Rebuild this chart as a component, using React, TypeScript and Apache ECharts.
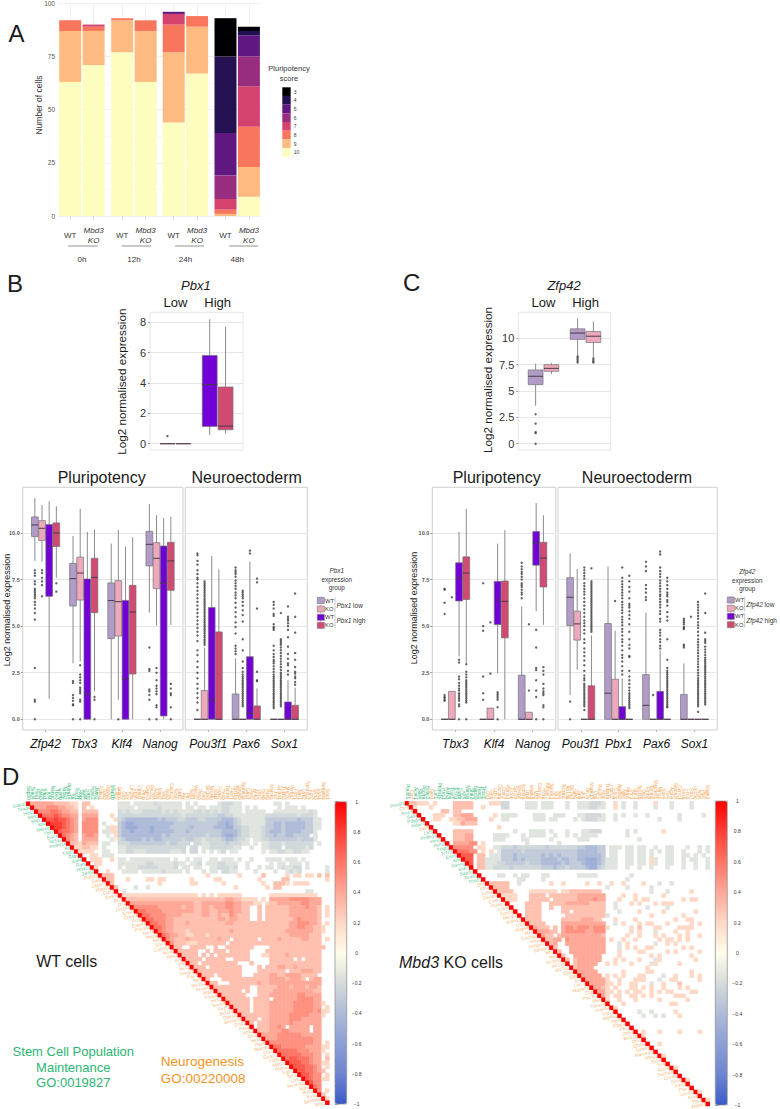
import { useEffect, useRef } from "react";
import * as echarts from "echarts";

const FONT = '"Liberation Sans", Arial, sans-serif';

// panel A
const facets = ["0h", "12h", "24h", "48h"];
const facetBars = ["WT", "Mbd3 KO"];
const scoreNames = ["10", "9", "8", "7", "6", "5", "4", "3"];
const scoreColors = ["#fcfdbf", "#febb81", "#f8765c", "#d3436e", "#982d80", "#5f187f", "#231151", "#000004"];
const score10 = [63, 71, 77, 63, 44, 67, 0, 9];
const score9 = [24, 16, 15, 24, 33, 22, 1, 14];
const score8 = [5, 2, 1, 5, 13, 5, 2, 19];
const score7 = [0, 1, 0, 0, 5, 0, 5, 19];
const score6 = [0, 0, 0, 0, 0, 0, 11, 14];
const score5 = [0, 0, 0, 0, 1, 0, 20, 10];
const score4 = [0, 0, 0, 0, 0, 0, 36, 2];
const score3 = [0, 0, 0, 0, 0, 0, 18, 2];
const scoreValues = [score10, score9, score8, score7, score6, score5, score4, score3];

// boxplots: [whisker low, q1, median, q3, whisker high] per gene, then per group
const groupColors = ["#b19cc7", "#eda9bc", "#7200d6", "#d04a72"];
const levelNames = ["Low", "High"];

const pbx1Boxes = [
  [[0, 0, 0, 0, 0], [0, 0, 0, 0, 0]],
  [[0.57, 1.14, 3.9, 5.82, 8.2], [0.66, 0.92, 1.16, 3.74, 7.7]],
];
const pbx1Outliers = [[[0.5], []], [[], []]];
const zfp42Boxes = [
  [[3.6, 5.6, 6.4, 7.0, 7.6], [6.6, 6.87, 7.15, 7.5, 7.66]],
  [[8.4, 9.9, 10.5, 10.9, 11.9], [8.2, 9.6, 10.2, 10.65, 11.6]],
];
const zfp42Outliers = [
  [[2.8, 1.9, 1.1, 1.0, 0], []],
  [[8.3, 8.15, 8.0, 7.85, 7.7], [8.1, 7.95, 7.8, 7.7]],
];

const bPluriGenes = ["Zfp42", "Tbx3", "Klf4", "Nanog"];
const bPluriBoxes = [
  [[8.5, 9.8, 10.43, 10.86, 11.88], [8.46, 9.6, 10.25, 10.66, 11.5], [1.1, 6.6, 9.28, 10.45, 11.7], [7.6, 9.27, 10, 10.54, 11.43]],
  [[3.0, 6.08, 7.55, 8.37, 9.84], [3.1, 6.4, 7.85, 8.7, 11.3], [0, 0, 1.35, 7.53, 10.05], [1.5, 5.72, 7.62, 8.64, 10.18]],
  [[0, 4.33, 6.37, 7.32, 9.43], [1.05, 4.47, 6.31, 7.44, 10.16], [0, 0, 2.16, 6.38, 9.27], [0, 2.43, 5.76, 7.19, 9.77]],
  [[5.72, 8.23, 9.39, 10.09, 11.55], [5.03, 7.01, 8.64, 9.48, 10.95], [0, 0.18, 7.3, 9.3, 10.8], [5.06, 6.92, 8.5, 9.5, 10.86]],
];
const bPluriOutliers = [
  [
    [8.0, 7.85, 7.7, 7.4, 7.25, 7.0, 6.9, 6.8, 6.7, 6.6, 6.5, 6.3, 6.15, 5.95, 5.7, 5.35, 2.75, 1.05, 0.95, 0],
    [8.0, 7.85, 7.6, 7.4, 7.2, 6.6],
    [],
    [7.3, 6.85],
  ],
  [
    [2.05, 1.95, 1.3, 1.15, 1.0, 0.8, 0.75, 0],
    [2.9, 2.4, 2.25, 2.1, 1.95, 1.7, 1.6, 1.5, 1.4, 1.05, 0.95, 0],
    [],
    [1.2, 1.05, 0],
  ],
  [[], [0], [], []],
  [
    [3.85, 2.7, 2.6, 1.6, 1.5, 1.3, 1.05, 0],
    [2.75, 2.5, 2.1, 1.8, 1.65, 1.5, 1.35, 0.75, 0.65, 0],
    [],
    [1.9, 1.65, 1.4, 1.3, 0.65, 0],
  ],
];

const bNeuroGenes = ["Pou3f1", "Pax6", "Sox1"];
const bNeuroBoxes = [
  [[0, 0, 0, 0, 0], [0, 0, 0, 1.54, 3.85], [0, 0, 1.04, 6.0, 8.77], [0, 0, 0, 4.69, 8.05]],
  [[0, 0, 0, 1.36, 3.27], [0, 0, 0, 0, 0], [0, 0, 0.32, 3.36, 8.46], [0, 0, 0, 0.72, 1.66]],
  [[0, 0, 0, 0, 0], [0, 0, 0, 0, 0], [0, 0, 0, 0.93, 2.1], [0, 0, 0, 0.75, 1.7]],
];
const bNeuroOutliers = [
  [
    [8.9, 8.8, 8.5, 8.3, 8.0, 7.8, 7.6, 7.5, 7.3, 7.1, 6.9, 6.7, 6.5, 6.3, 6.1, 5.9, 5.7, 5.5, 5.3, 5.1, 4.9, 4.7, 4.5, 4.2, 3.7, 3.45, 3.1, 2.8, 2.5, 2.2, 1.9, 1.65, 1.4, 1.15, 0.9, 0.5],
    [7.4, 7.3, 7.2, 7.1, 7.0, 6.9, 6.8, 6.7, 6.6, 6.5, 6.4, 6.3, 6.2, 6.1, 6.0, 5.9, 5.8, 5.7, 5.6, 5.5, 5.4, 5.3, 5.2, 5.1, 5.0, 4.9, 4.8, 4.7, 4.6, 4.5, 4.4, 4.3, 4.2, 4.1, 4.0],
    [],
    [],
  ],
  [
    [8.15, 8.0, 7.9, 7.8, 7.65, 7.45, 7.3, 7.15, 7.0, 6.8, 6.65, 6.5, 6.25, 6.0, 5.75, 5.5, 5.2, 4.95, 4.6, 3.95, 3.8, 3.65, 3.5],
    [6.9, 6.8, 6.7, 6.6, 6.5, 6.3, 6.1, 5.85, 5.6, 5.25, 4.3, 3.7, 3.1, 2.75, 2.55, 2.4, 2.3, 2.2, 2.1, 2.0, 1.9, 1.8, 1.7, 1.6, 1.5, 1.4, 1.3, 1.2, 1.1, 1.0, 0.9, 0.8, 0.7],
    [9.05, 8.9],
    [7.55, 7.35, 5.95, 2.55, 2.1, 2.05],
  ],
  [
    [6.3, 6.15, 5.95, 5.65, 5.55, 5.1, 4.95, 4.9, 4.8, 3.95, 3.7, 3.5, 3.35, 3.2, 3.1, 3.0, 2.85, 2.7, 2.55, 2.4, 2.3, 2.2, 2.1, 2.0, 1.9, 1.8, 1.7, 1.6, 1.5, 1.4, 1.3, 1.2, 1.1, 1.0, 0.9, 0.8, 0.7, 0.6],
    [5.7, 4.3, 4.2, 4.1, 4.0, 3.85, 3.7, 3.55, 3.4, 3.25, 3.1, 2.95, 2.8, 2.65, 2.5, 2.4, 2.3, 2.2, 2.1, 2.0, 1.9, 1.8, 1.7, 1.6, 1.5, 1.4, 1.3, 1.2, 1.1, 1.0, 0.9, 0.8, 0.7],
    [6.05, 5.5, 5.4, 5.3, 5.15, 5.0, 4.8, 4.4, 3.9, 3.5, 3.25, 3.0, 2.9, 2.6, 2.4],
    [6.75, 5.5, 4.65, 3.55, 3.2, 2.8, 2.55, 2.45, 2.3, 2.2, 2.0, 1.85],
  ],
];

const cPluriGenes = ["Tbx3", "Klf4", "Nanog"];
const cPluriBoxes = [
  [[0, 0, 0, 0, 0], [0, 0, 0, 1.5, 1.5], [3.37, 6.35, 7.58, 8.4, 10.05], [3.0, 6.43, 7.85, 8.72, 11.3]],
  [[0, 0, 0, 0, 0], [0, 0, 0, 0.6, 0.6], [2.47, 5.08, 6.4, 7.4, 9.43], [0, 4.37, 6.33, 7.42, 10.15]],
  [[0, 0, 0, 2.37, 6.05], [0, 0, 0, 0.38, 0.38], [5.8, 8.27, 9.47, 10.08, 11.6], [5.07, 7.1, 8.65, 9.5, 10.95]],
];
const cPluriOutliers = [
  [
    [7.0, 6.95, 6.25, 5.65, 1.3, 1.2, 1.15, 1.05, 1.0],
    [6.55],
    [3.2, 3.05, 2.3, 2.15, 1.95, 1.8, 1.65, 1.55, 1.4, 1.3, 1.2, 1.1, 1.0, 0.8, 0.7, 0],
    [2.95, 2.55, 2.4, 2.25, 2.1, 2.0, 1.9, 1.8, 1.7, 1.6, 1.5, 1.4, 1.3, 1.2, 1.1, 1.0, 0.9, 0],
  ],
  [
    [7.3, 5.0, 4.75, 2.3, 1.4, 1.05],
    [5.2, 2.45],
    [1.45, 1.35, 1.25, 1.15, 1.05, 0.65, 0],
    [],
  ],
  [
    [8.4, 8.2, 8.05, 7.9, 7.8, 7.65, 7.5, 7.3, 7.2, 7.1, 6.95, 6.8, 6.7, 6.5],
    [5.1, 1.55],
    [4.8, 3.85, 2.75, 2.65, 2.1, 1.55, 1.2, 0],
    [2.8, 2.6, 2.4, 1.9, 1.65, 1.5, 1.4, 1.3, 0.75, 0.65, 0],
  ],
];

const cNeuroGenes = ["Pou3f1", "Pbx1", "Pax6", "Sox1"];
const cNeuroBoxes = [
  [[1.3, 5.03, 6.55, 7.6, 8.9], [2.65, 4.25, 5.12, 5.8, 8.07], [0, 0, 0, 0, 0], [0, 0, 0, 1.8, 4.5]],
  [[0, 0, 1.4, 5.14, 8.2], [0, 0, 0, 2.15, 4.76], [0, 0, 0, 0.68, 2.2], [0, 0, 0, 0, 0]],
  [[0, 0, 0.75, 2.4, 5.73], [0, 0, 0, 0, 0], [0, 0, 0, 1.5, 3.7], [0, 0, 0, 0, 0]],
  [[0, 0, 0, 1.33, 3.0], [0, 0, 0, 0, 0], [0, 0, 0, 0, 0], [0, 0, 0, 0, 0]],
];
const cNeuroOutliers = [
  [
    [0.95, 0],
    [],
    [8.15, 8.0, 7.85, 7.7, 7.55, 7.3, 7.15, 7.0, 6.85, 6.7, 6.5, 6.3, 6.1, 5.9, 5.7, 5.5, 5.3, 5.15, 5.0, 4.8, 4.6, 4.3, 4.1, 3.8, 3.6, 3.4, 3.15, 2.9, 2.6, 2.35, 2.2, 2.1, 1.9, 1.8, 1.7, 1.6, 1.5, 1.4, 1.3, 1.2, 1.1, 1.0, 0.9, 0.8, 0.7, 0.5],
    [8.1, 7.4, 7.3, 7.2, 7.1, 7.0, 6.9, 6.8, 6.7, 6.6, 6.5, 6.4, 6.3, 6.2, 6.1, 6.0, 5.9, 5.8, 5.7, 5.6, 5.5, 5.4, 5.3, 5.2, 5.1, 5.0, 4.9, 4.8, 4.7],
  ],
  [
    [],
    [6.35],
    [8.15, 7.6, 7.4, 7.25, 7.1, 6.95, 6.8, 6.65, 6.5, 6.3, 6.15, 6.0, 5.85, 5.7, 5.5, 5.35, 5.2, 5.05, 4.85, 4.7, 4.5, 4.3, 4.15, 3.95, 3.7, 3.45, 3.3, 3.1, 2.85, 2.6, 2.4],
    [7.7, 7.4, 7.1, 6.85, 6.5, 6.2, 6.1, 6.0, 5.8, 5.6, 5.4, 5.1, 4.7, 4.3, 4.0, 3.8, 3.4, 3.35, 2.6, 2.3, 2.1, 1.9, 1.7, 1.55, 1.4, 1.3, 1.2, 1.1, 1.0, 0.9, 0.8, 0.7, 0.6],
  ],
  [
    [8.45, 8.2, 7.95, 7.2, 7.0, 6.8, 6.55, 6.4],
    [1.3],
    [9.0, 8.85, 8.15, 7.95, 7.8, 7.65, 7.45, 7.3, 7.15, 7.0, 6.85, 6.7, 6.6, 6.45, 6.3, 6.15, 6.0, 5.8, 5.65, 5.4, 5.25, 4.8, 4.65, 4.5, 4.3, 4.15, 3.95, 3.8],
    [7.6, 7.4, 7.2, 7.0, 6.8, 6.7, 6.6, 6.4, 6.3, 6.1, 5.75, 5.5, 5.3, 4.3, 3.2, 2.75, 2.6, 2.5, 2.4, 2.3, 2.2, 2.1, 2.0, 1.9, 1.8, 1.7, 1.6, 1.5, 1.4, 1.3, 1.2, 1.1, 1.0, 0.9, 0.8, 0.7, 0.65],
  ],
  [
    [5.4, 5.3, 5.2, 5.1, 4.95, 4.9, 4.85, 4.0, 3.95, 3.85],
    [5.5],
    [6.3, 6.15, 6.0, 5.85, 5.7, 5.55, 5.4, 5.2, 5.05, 4.9, 4.7, 4.5, 4.3, 4.15, 4.0, 3.85, 3.7, 3.55, 3.4, 3.25, 3.1, 2.95, 2.8, 2.65, 2.5, 2.35, 2.2, 2.1, 2.0, 1.9, 1.8, 1.7, 1.6, 1.5, 1.4, 1.3, 1.2, 1.1, 1.0, 0.9, 0.8, 0.7, 0.4],
    [6.75, 5.7, 4.65, 4.3, 4.2, 4.1, 3.9, 3.75, 3.6, 3.45, 3.3, 3.2, 3.1, 3.0, 2.9, 2.8, 2.7, 2.6, 2.5, 2.4, 2.3, 2.2, 2.1, 2.0, 1.9, 1.8, 1.7, 1.6, 1.5, 1.4, 1.3, 1.2, 1.1, 1.0, 0.9, 0.8],
  ],
];

// correlation matrices: each row starts right of the diagonal.
// "." blank, 1-9 = +0.1..+0.9, a-e = negative, read by eye from the cells
const negativeLevels: Record<string, number> = { a: -0.15, b: -0.22, c: -0.3, d: -0.4, e: -0.5 };
const colorbarStops = ["#3a5ac8", "#6e85d0", "#8c9fd6", "#aebbd8", "#d5dbda", "#fffdea", "#ffd8c6", "#ffa898", "#ff7565", "#ff3f35", "#ff0000"];
const colorbarTicks = ["1", "0.8", "0.6", "0.4", "0.2", "0", "−0.2", "−0.4", "−0.6", "−0.8", "−1"];

const wtGenes = [
  "Sap30", "Tead4", "Hes1", "Stat3", "Sfrp1", "Klf4", "Nanog", "Tbx3", "Esrrb", "Nr5a2", "Prdm14", "Kit", "Tdgf1", "Rbpj", "Sall4", "Rarg", "Hdac2", "Jarid2",
  "Robo1", "Sall3", "Dpysl3", "Map1b", "Cdh2", "Gmnn", "Gli3", "Dcx", "Lin28a", "Enah", "Crmp1", "Prnp", "Gap43", "Pou3f2", "Ascl1", "Map2", "Mll1", "Sox3",
  "Cacng2", "Ncan", "Ntrk2", "Arx", "Ptn", "Nell1", "Vangl2", "Pax3", "Nefl", "Slc1a3", "Nrcam", "Mapt", "Foxp2", "Hes5", "Tenm4", "Fezf1", "Bcl11a", "Dpysl5",
  "Sema3a", "Gria1", "Pax2", "Ank3", "Otx2", "Hes6", "Pax6", "Marcks", "Lhx2", "Gnao1", "Tubb3", "Mef2c", "Plxna2", "Fgfr1", "Ntn1", "Lrrk2", "Neurog2", "Egr2",
  "Wnt3", "Eya1", "Sema6a", "Sox1",
];
const wtRows = [
  "444444333322.33.......aaa.aaaaabaaaaaa.a.a.....abbbaa........aa.a..........",
  "44455544332.3.2......aaaa.aaaaabaaaaa.aa.aa.aaabbaaa.a.a.....a.aaa.a......",
  "5556654433.3333.....babaaabbbbbababaaaabbabababbaaa.aaaaa..aaaaaaaaaba...",
  "666765544.4444...2.bbbbbbbbbbbbbbbbabbbbbbbbccbbaaaaaaaabbbbbbbbabbba...",
  "77877654.4555....2bcddddddddcdcccbbcccbbccccdddcbaaaaaaccccccccdcccaa..",
  "8887654.5555.a...cdeeddddddddddcccccccccccddedcbaaaaaaccddcdddddccaa..",
  "887654.5555..a22cdeeedddeddddcccccdcccccdddeeccbbaaabccddcdddddccaa..",
  "76654.5555.aa22cddeddddedddddcccdccccccccddddcbbaaabcdddcddddccca...",
  "6543.4554..a.2cddddddddddcdcccccccccbcccdeedcbbaaabccdccddcccc.a...",
  "543.4444...a1bcddddcdcddcccccbccbbabbbbcddcbba.aabbcccccccbccca...",
  "3324333.aa..bbbcccccccccbccbbb.bbaabbbbcbbbaa.a.aabbbabbbbbbb.a..",
  "223322.a...aabbbbbbbbbbbbbbb.bb.aabbbbbbaa..a..aabbb.bbbbbab....",
  "2222..aa..aabbaaabbbbbbaaab.bb.a.a.ab.aa......a.aabbaabbaa.....",
  "..22.aaa.",
  ".222..2.aa.aaaaaaaaaa.a..a.aa..aa.aaa.a..a...aaaa.aaa.a......",
  ".22....aaaaaaabbaaaaabaa.aab.aaabbaaa..a.....a.aa.aaa.a.....",
  "2.....a.aaabbbbbaaaab.aa.aa..aabbbab..a..a.aa.abaabb.a....a",
  "..2...aaaa.aaaaabaaaa.a...a.aa.bbaa....a....a..abab......a",
  "333.......................2.......2.....3.....2.22.22.3.3",
  "33...2....22.22......2.....22.........2.....33.........2",
  "3...........2.......22......2.........2..3332.2222.....",
  "3....a..a.....................2.......2.33............",
  ".a.............................................aa.......",
  "2222222222222222222.2.2.222222.......222222222222...",
  "33333333333333333333333334433" + "2222.2." + "4444455555444..",
  "444444444444" + "4444334444445544" + "33322.2" + "3344444455444..",
  "55555544444" + "4344334434445544" + "33..3.3" + "3333344445443.2",
  "6655554444" + "4444334433444544" + "33..3.3" + "3333344444443.2",
  "665555444" + "4333334433433543" + "33..3.3" + "3333344444443.2",
  "66555443" + "3333333333443443" + "33..3.3" + "3333334544443..",
  "6655443" + "3343333333334433" + "3333333" + "3333344555443.2",
  "665443" + "3333333333333333" + "3333333" + "33333445544332.",
  "65443" + "3323333333333433" + "3333333" + "33334444444332.",
  "6544" + "3322333233333333" + "3333333" + "3333344444333..",
  "543" + "3343333333433.33" + "3333.33" + "3343333344333.2",
  "53" + "332223333333.333" + "3333333" + "3333333333333..",
  "33..3333..3..3333333....33333333333333.2",
  "33333..3.333.33333....33333333333333..",
  "3333.3.3.33333333...223333433333333..",
  "3333.33333..3333.....333333.3.3333..",
  "33.333333333...3....3333333333333..",
  "333.33333333....3.33344334333333..",
  "33333333333....3333333.33344433..",
  "333.333333...3333443344443333..",
  "3...33333333333344443444" + "3.344..",
  "33...33333334334444444444444..",
  "333333333..3333344434443443..",
  "333333.3..3333444444444433..",
  "333333...3334444444554444..",
  "333333.3333.444444555544..",
  "33333.33334444445555544" + "2.",
  "3333.33334444445555544.2",
  "333.3333444444555554522",
  "33333334444455555444" + "2.",
  "333.334444455544444..",
  "3.3334444454444444..",
  ".3334454.44444.44..",
  "3334445544444.44..",
  "444455555544444..",
  "44455555555544..",
  "5555555555544.2",
  "66555555444422",
  "66666555444" + "2.",
  "6666655544.2",
  "677666544.3",
  "7776654422",
  "7776654.2",
  "776654" + "3.",
  "77655.2",
  "765522",
  "755..",
  "65..",
  "5.2",
  "3.",
  "2",
];

const koGenes = [
  "Pou5f1", "Ccnf", "Acvr1", "Sall4", "Pdgfra", "Hdac1", "Sall1", "Lef1", "Prdm14", "Hes1", "Ash2l", "Tdgf1", "Tcf7l1", "Esrrb", "Klf4", "Nanog", "Stat3", "Sap30", "Tead1", "Thsd1",
  "Dll1", "Flna", "Lzts2", "Dscam", "Cntn2", "Plxna1", "Cdon", "Scn2a", "Mecp2", "Kdm1a", "Lrp8", "Mapk8", "Mll2", "Cacng1", "Hif1a", "Arhgef7", "Spock1", "Mt1", "Nes", "Ncam1",
  "Arl13b", "Slc7a1", "Gja1", "Sp8", "Jun", "Lin7a", "Mapk10", "Cnp", "Pou3f1", "Msn", "Tuba1a", "Hand2", "Ugcg", "Atp8a2", "Nptn", "Ptbp1", "Pfn1", "Dbn1", "Bcl11b", "Otx1",
  "Efnb2", "Tenm3", "Marcksl1", "Ntng1", "Sox4", "Tcf4", "Actn4", "Sema3f", "Cend1", "Sez6", "Fzd3", "Pax7", "Unc5c", "Kras", "Plp1", "Mapk3",
];
const koRows = [
  "33222.2....33333....222" + "bb....aaa.aaa...a.." + "aaabbba" + "..2.a..a....2...a....a....",
  "2...2.....33333..2...." + "bb....aaa.aaa...a.." + "aaabbaa" + "..2.a..a....a...a....a....",
  "......33.33......",
  "...222..33444.....2." + "aaaa....aaa..aaa..." + "aabbbba" + "..a.a..a..a.......a.....a",
  "..22..2233444...2.." + "aa......aaa.aa....a" + ".abbbaa" + "..a..........a....a.....",
  "......224333..",
  "................2",
  "....33333......." + "...a...aaaa.a...a.." + ".aabbb." + ".....a.a......2............",
  "...33344.....aa" + "aa...a.aaaa..a..a.a" + ".aaaa.." + ".....a..............",
  "..33344.....aa" + "a....aa.....a......" + "aaa...." + "........a...",
  ".444455.2...." + "......a.......a....",
  "55555.22..aa" + "bbbcbbbbbbbcbbbbbbb" + "ccdddcc" + ".aaa.aa.aa..a..aa...a..a.a",
  "66655.2.2.a" + "cccccbccccccccccccc" + "dddddcc" + ".aa..aa.aa.a.a.aa..a...a.a",
  "777.33.aaa" + "cccdccccccdcdcdcccc" + "ddddddc" + ".aa..aa.aa.a...aa..aa.a.a.",
  "77.33aaaa" + "cccdcdccccddddcddcc" + "ddeeedc" + "aaa..aa.aa.2a..aa..a.aa..a",
  "7.33aaab" + "bcccccbcccdddddcdcc" + "cdeeedc" + "aaa..aa.aa.2a..aa..a..a..a",
  ".33aabb" + "bbcbbbbbbbcccdccbcc" + "ccdeecb" + "aaa..a..a..a...a...a..a..a",
  "",
  "....a" + "a..a.aa...aa......." + "aaaaa.." + "......a.....",
  "...." + "....aa....a........" + "......." + ".....a....",
  "333" + "33..a.......2..2..." + "..2..2." + ".2..2....2...a..a...",
  "33" + "33................." + "......." + "a....a.....a......",
  "3" + "333....2222222.2233" + "333333." + "...........a...a.....2..",
  "2222...3333.3333333" + "4444444" + "....2..2......2.............2",
  "222...33333.333333" + "4444544" + "...2...2.22........2.22",
  "....3333..3333444" + "4443333" + "..a...2.2...2.222...........",
  "...3333..3..3333" + "3333333" + "..a.......a....a.........",
  "..3333.....33.3" + "3333333" + "...a....2.....2.......2..",
  ".3333......333" + "3333333" + "a..........2.......2.....",
  "3333.....333" + "3344433" + "...2....2.........2..22.",
  "3333....4444" + "4444444" + "..a.2...2.22...2.....2.2",
  "4333.3.4554" + "5554555" + "2.....2.3...22....2222.",
  "44433.4555" + "5544555" + "......2.2...a....2..2..",
  "433.34444" + "4444443" + ".....2..2...2.2...2.2..2",
  "3344.544" + "4444444" + ".2..2..2.....2.22.2.2....",
  "34..444" + "4444444" + "...a.2......a..2.2....",
  "3...44" + "4444444" + "...a.2.2..22.......2.2.....2",
  "3..44" + "4444444" + "...2....22.....2.2.....2.",
  "3..4" + "444444." + "...2.......2.2.......2",
  "3.3" + "444444." + "..2.2...2...a2........2",
  ".3" + "44444.." + "2.2...2....a2.....2....",
  "3" + "4444..." + "..........2...",
  "44444.." + "....2.....22.........2",
  "44444." + "2.2.2...22....a..2...2.2.",
  "44444" + "2..2...222...a..22.....2",
  "4444" + "22.2..22...a..2...3...",
  "443" + "2.2...22.2.2..2...2.2.",
  "44" + "22.2.2.22..2.2.22....22",
  "4" + "2.22..22.2.2.....222",
  "2..2...2.....2......2",
  "...2...........22...",
  "2.....................",
  ".....a..a.....2.....",
  ".....a..a.a...2....",
  "..............",
  "...............",
  ".............",
  ".2...2....2....2.",
  "2",
  "",
  "..2",
  "",
  "",
  "2",
  "",
  "",
  "2",
  "",
  "",
  "2",
  "",
  "",
  "2",
  "",
  "2",
];

type Rect = [number, number, number, number];

const gridRect = ([x0, y0, x1, y1]: Rect) => ({
  left: x0,
  top: y0,
  width: x1 - x0,
  height: y1 - y0,
});

const text = (value: string, x: number, y: number, fontSize: number, extra: any = {}) => ({
  type: "text",
  x,
  y,
  silent: true,
  rotation: extra.rotation ?? 0,
  style: {
    text: value,
    fontSize,
    fontFamily: FONT,
    fill: extra.fill ?? "#1a1a1a",
    fontStyle: extra.fontStyle ?? "normal",
    align: extra.align ?? "center",
    verticalAlign: "middle",
    rich: extra.rich,
  },
});

const parseCells = (rows: string[]) => {
  const cells: number[][] = [];
  rows.forEach((row, r) => {
    cells.push([r, r, 1]);
    for (let i = 0; i < row.length; i++) {
      const c = r + 1 + i;
      if (c > 75 || row[i] === ".") continue;
      const value = negativeLevels[row[i]] ?? Number(row[i]) / 10;
      cells.push([c, r, value]);
    }
  });
  cells.push([75, 75, 1]);
  return cells;
};

function buildOption() {
  const grid: any[] = [];
  const xAxis: any[] = [];
  const yAxis: any[] = [];
  const series: any[] = [];
  const visualMap: any[] = [];
  const graphics: any[] = [];

  const addGrid = (rect: Rect, x: any, y: any, extra: any = {}) => {
    grid.push({ ...gridRect(rect), ...extra });
    const index = grid.length - 1;
    xAxis.push({ gridIndex: index, ...x });
    yAxis.push({ gridIndex: index, ...y });
    return index;
  };

  // panel A: one background grid for the value axis, one grid per facet
  addGrid(
    [58, 3.3, 261, 216],
    { type: "value", show: false, min: 0, max: 1 },
    {
      type: "value",
      min: 0,
      max: 100,
      interval: 25,
      axisLine: { show: false },
      axisTick: { show: false },
      axisLabel: { color: "#555", fontSize: 6.5, margin: 3, fontFamily: FONT },
      splitLine: { lineStyle: { color: "#ececec", width: 0.8 } },
      minorSplitLine: { show: true, lineStyle: { color: "#f5f5f5", width: 0.6 } },
      minorTick: { splitNumber: 2, show: false },
    },
  );
  const facetLefts = [58.5, 110.5, 162, 213.8];
  facets.forEach((facet, f) => {
    const left = facetLefts[f];
    const g = addGrid(
      [left, 3.3, left + 46.8, 216],
      {
        type: "category",
        data: facetBars,
        name: facet,
        nameLocation: "middle",
        nameGap: 39,
        nameTextStyle: { fontSize: 8, color: "#333", fontFamily: FONT },
        axisLine: { show: false },
        axisTick: { show: true, alignWithLabel: true, length: 4, lineStyle: { color: "#d8d8d8" } },
        splitLine: { show: true, alignWithLabel: true, lineStyle: { color: "#ececec", width: 0.8 } },
        axisLabel: {
          interval: 0,
          margin: 19,
          verticalAlign: "middle",
          fontFamily: FONT,
          formatter: (v: string) => (v === "WT" ? "{n|WT}" : "{i|Mbd3}\n{i|KO}"),
          rich: {
            n: { fontSize: 8, color: "#333", fontFamily: FONT, lineHeight: 10 },
            i: { fontSize: 8, color: "#333", fontStyle: "italic", fontFamily: FONT, lineHeight: 10 },
          },
        },
      },
      { type: "value", show: false, min: 0, max: 100, splitLine: { show: false } },
    );
    scoreNames.forEach((score, s) => {
      series.push({
        type: "bar",
        name: score,
        xAxisIndex: g,
        yAxisIndex: g,
        stack: `facet${f}`,
        barWidth: "94%",
        itemStyle: { color: scoreColors[s] },
        data: scoreValues[s].slice(f * 2, f * 2 + 2),
      });
    });
  });
  [[68.3, 97.7], [121.7, 151], [175, 204.3], [229, 258.3]].forEach(([x1, x2]) => {
    graphics.push({ type: "line", silent: true, shape: { x1, y1: 246, x2, y2: 246 }, style: { stroke: "#777", lineWidth: 0.8 } });
  });
  graphics.push(text("Number of cells", 38.5, 105, 8.5, { rotation: Math.PI / 2, fill: "#333" }));
  graphics.push(text("Pluripotency", 289, 68.7, 7.5, { fill: "#333" }));
  graphics.push(text("score", 289, 78, 7.5, { fill: "#333" }));

  // boxplot panels
  const addBoxes = (opts: {
    rect: Rect;
    cats: string[];
    boxes: number[][][];
    outliers: number[][][];
    yMin: number;
    yMax: number;
    yTicks: number[];
    tickFormat: (v: number) => string;
    tickStyle: any;
    catStyle: any;
    onTop?: boolean;
    hideTicks?: boolean;
    colors: string[];
  }) => {
    const n = opts.colors.length;
    const slot = 0.75 / n;
    const catValues = opts.cats.map((_, i) => i);
    const g = addGrid(
      opts.rect,
      {
        type: "value",
        position: opts.onTop ? "top" : "bottom",
        min: -0.6,
        max: opts.cats.length - 0.4,
        axisLine: { show: false, onZero: false },
        splitLine: { show: false },
        axisTick: { show: !opts.onTop, customValues: catValues, length: 2, lineStyle: { color: "#bbb" } },
        axisLabel: {
          customValues: catValues,
          formatter: (v: number) => opts.cats[v] ?? "",
          fontFamily: FONT,
          showMinLabel: true,
          showMaxLabel: true,
          ...opts.catStyle,
        },
      },
      {
        type: "value",
        min: opts.yMin,
        max: opts.yMax,
        axisLine: { show: false, onZero: false },
        axisTick: { show: !opts.hideTicks, customValues: opts.yTicks, length: 2, lineStyle: { color: "#999" } },
        splitLine: { show: true, lineStyle: { color: "#e6e6e6", width: 1 } },
        axisLabel: {
          show: !opts.hideTicks,
          customValues: opts.yTicks,
          formatter: (v: number) => opts.tickFormat(v),
          fontFamily: FONT,
          ...opts.tickStyle,
        },
      },
      { show: true, borderColor: opts.onTop ? "#e6e6e6" : "#cfcfcf", borderWidth: 1 },
    );
    const boxData: number[][] = [];
    const dots: number[][] = [];
    opts.boxes.forEach((groups, cat) => {
      groups.forEach((stats, group) => {
        boxData.push([cat, group, ...stats]);
        (opts.outliers[cat]?.[group] ?? []).forEach((v) => {
          dots.push([cat + (group - (n - 1) / 2) * slot, v]);
        });
      });
    });
    series.push({
      type: "scatter",
      xAxisIndex: g,
      yAxisIndex: g,
      silent: true,
      symbolSize: 2.4,
      itemStyle: { color: "#3d3d3d" },
      data: dots,
      z: 3,
    });
    series.push({
      type: "custom",
      xAxisIndex: g,
      yAxisIndex: g,
      silent: true,
      encode: { x: 0, y: [2, 3, 4, 5, 6] },
      data: boxData,
      z: 2,
      renderItem: (_: any, api: any) => {
        const group = api.value(1);
        const x = api.value(0) + (group - (n - 1) / 2) * slot;
        const cx = api.coord([x, 0])[0];
        const half = api.size([slot * 0.47, 0])[0];
        const y = (v: number) => api.coord([x, v])[1];
        const [low, q1, med, q3, high] = [2, 3, 4, 5, 6].map((d) => api.value(d));
        return {
          type: "group",
          children: [
            {
              type: "line",
              shape: { x1: cx, y1: y(low), x2: cx, y2: y(high) },
              style: { stroke: "#8c8c8c", lineWidth: 1 },
            },
            {
              type: "rect",
              shape: { x: cx - half, y: y(q3), width: half * 2, height: y(q1) - y(q3) },
              style: { fill: opts.colors[group], stroke: "#727272", lineWidth: 0.7 },
            },
            {
              type: "line",
              shape: { x1: cx - half, y1: y(med), x2: cx + half, y2: y(med) },
              style: { stroke: "#4a3a4a", lineWidth: 1 },
            },
          ],
        };
      },
    });
  };

  const topCats = { fontSize: 13, color: "#1a1a1a", margin: 3 };
  const topTicks = { fontSize: 11, color: "#333", margin: 4 };
  const lowerCats = { fontSize: 12, color: "#111", fontStyle: "italic", margin: 8 };
  const lowerTicks = { fontSize: 5.5, color: "#555", fontWeight: "bold", margin: 3 };
  const lowerY = { yMin: -0.574, yMax: 12.45, yTicks: [0, 2.5, 5, 7.5, 10], tickFormat: (v: number) => v.toFixed(1) };
  const pairColors = groupColors;

  addBoxes({
    rect: [150, 312.3, 243, 450], cats: levelNames, boxes: pbx1Boxes, outliers: pbx1Outliers,
    yMin: -0.415, yMax: 8.66, yTicks: [0, 2, 4, 6, 8], tickFormat: (v) => String(v),
    tickStyle: topTicks, catStyle: topCats, onTop: true,
    colors: [pairColors[2], pairColors[3]],
  });
  addBoxes({
    rect: [518.3, 312.3, 610.7, 450], cats: levelNames, boxes: zfp42Boxes, outliers: zfp42Outliers,
    yMin: -0.6, yMax: 12.47, yTicks: [0, 2.5, 5, 7.5, 10], tickFormat: (v) => String(v),
    tickStyle: topTicks, catStyle: topCats, onTop: true,
    colors: [pairColors[0], pairColors[1]],
  });
  addBoxes({ rect: [22.7, 487.3, 183, 730], cats: bPluriGenes, boxes: bPluriBoxes, outliers: bPluriOutliers, ...lowerY, tickStyle: lowerTicks, catStyle: lowerCats, colors: groupColors });
  addBoxes({ rect: [185.3, 487.3, 307.3, 730], cats: bNeuroGenes, boxes: bNeuroBoxes, outliers: bNeuroOutliers, ...lowerY, tickStyle: lowerTicks, catStyle: lowerCats, hideTicks: true, colors: groupColors });
  addBoxes({ rect: [432.3, 487.3, 555.7, 730], cats: cPluriGenes, boxes: cPluriBoxes, outliers: cPluriOutliers, ...lowerY, tickStyle: lowerTicks, catStyle: lowerCats, colors: groupColors });
  addBoxes({ rect: [558, 487.3, 717.3, 730], cats: cNeuroGenes, boxes: cNeuroBoxes, outliers: cNeuroOutliers, ...lowerY, tickStyle: lowerTicks, catStyle: lowerCats, hideTicks: true, colors: groupColors });

  graphics.push(
    text("Pbx1", 195.8, 285.7, 13, { fontStyle: "italic" }),
    text("Zfp42", 564, 285.7, 13, { fontStyle: "italic" }),
    text("Log2 normalised expression", 121.7, 381.7, 11.7, { rotation: Math.PI / 2 }),
    text("Log2 normalised expression", 487.3, 380, 11.7, { rotation: Math.PI / 2 }),
    text("Log2 normalised expression", 6.5, 610, 9, { rotation: Math.PI / 2 }),
    text("Log2 normalised expression", 414, 608, 9, { rotation: Math.PI / 2 }),
    text("Pluripotency", 101.7, 477, 16),
    text("Neuroectoderm", 246.7, 477, 16),
    text("Pluripotency", 496.7, 477, 16),
    text("Neuroectoderm", 637, 477, 16),
    text("A", 16.6, 33, 24),
    text("B", 15, 283, 24),
    text("C", 411.7, 282, 24),
    text("D", 10.7, 776, 24),
  );

  // boxplot legends
  const addKey = (gene: string, titleX: number, titleY: number, keyX: number, barX: number, keyYs: number[], lowY: number, highY: number) => {
    graphics.push(
      text(gene, titleX, titleY, 6.3, { fontStyle: "italic", fill: "#333" }),
      text("expression", titleX, titleY + 9, 6.3, { fill: "#333" }),
      text("group", titleX, titleY + 17.5, 6.3, { fill: "#333" }),
    );
    keyYs.forEach((y, i) => {
      graphics.push(
        { type: "line", silent: true, shape: { x1: keyX + 3.5, y1: y - 4, x2: keyX + 3.5, y2: y + 4 }, style: { stroke: "#999", lineWidth: 0.6 } },
        { type: "rect", silent: true, shape: { x: keyX, y: y - 3, width: 7, height: 6 }, style: { fill: groupColors[i], stroke: "#777", lineWidth: 0.6 } },
        text(i % 2 === 0 ? "WT" : "KO", keyX + 7.8, y, 5.8, { align: "left", fill: "#333" }),
      );
    });
    const rich = { i: { fontStyle: "italic", fontSize: 6.5, fontFamily: FONT, fill: "#333" } };
    graphics.push(
      { type: "line", silent: true, shape: { x1: barX, y1: keyYs[0] - 3, x2: barX, y2: keyYs[1] + 3 }, style: { stroke: "#888", lineWidth: 0.5 } },
      { type: "line", silent: true, shape: { x1: barX, y1: keyYs[2] - 3, x2: barX, y2: keyYs[3] + 3 }, style: { stroke: "#888", lineWidth: 0.5 } },
      text(`{i|${gene}} low`, barX + 1.5, lowY, 6.5, { align: "left", fill: "#333", rich }),
      text(`{i|${gene}} high`, barX + 1.5, highY, 6.5, { align: "left", fill: "#333", rich }),
    );
  };
  addKey("Pbx1", 336.7, 570, 317.3, 335, [600.5, 609, 617.3, 625.3], 605, 620.7);
  addKey("Zfp42", 747.3, 571, 727.3, 744.7, [600, 608.3, 616.3, 624.7], 604.7, 620);

  // correlation heatmaps
  const addHeatmap = (
    rect: Rect,
    genes: string[],
    rows: string[],
    topGreen: (i: number) => boolean,
    rowGreen: (i: number) => boolean,
    bar: Rect,
  ) => {
    const green = "#2bb673";
    const orange = "#f9a24b";
    const g = addGrid(
      rect,
      {
        type: "category",
        position: "top",
        data: genes,
        axisLine: { show: false },
        axisTick: { show: false },
        splitLine: { show: false },
        axisLabel: {
          interval: 0,
          rotate: 90,
          fontSize: 4.8,
          margin: 2,
          fontFamily: FONT,
          color: (_: string, i: number) => (topGreen(i) ? green : orange),
        },
      },
      {
        type: "category",
        inverse: true,
        show: false,
        data: genes,
        splitLine: { show: false },
      },
    );
    series.push({
      type: "heatmap",
      xAxisIndex: g,
      yAxisIndex: g,
      silent: true,
      progressive: 0,
      data: parseCells(rows),
      emphasis: { disabled: true },
    });
    const seriesIndex = series.length - 1;
    visualMap.push({
      type: "continuous",
      seriesIndex,
      min: -1,
      max: 1,
      calculable: false,
      realtime: false,
      showLabel: false,
      padding: 0,
      left: bar[0],
      top: bar[1],
      itemWidth: bar[2] - bar[0],
      itemHeight: bar[3] - bar[1],
      inRange: { color: colorbarStops },
    });
    series.push({
      type: "scatter",
      xAxisIndex: g,
      yAxisIndex: g,
      silent: true,
      symbolSize: 1,
      itemStyle: { color: "transparent" },
      data: genes.map((gene, i) => ({
        value: [i, i],
        label: {
          show: true,
          position: "left",
          distance: 1.5,
          rotate: 12,
          formatter: gene,
          fontSize: 4.8,
          fontFamily: FONT,
          color: rowGreen(i) ? green : orange,
        },
      })),
    });
    addGrid(
      bar,
      { type: "value", show: false, min: 0, max: 1 },
      {
        type: "value",
        position: "right",
        min: -1,
        max: 1,
        interval: 0.2,
        axisLine: { show: false },
        axisTick: { show: true, length: 3.5, lineStyle: { color: "#666", width: 0.6 } },
        splitLine: { show: false },
        axisLabel: {
          color: "#333",
          fontSize: 5,
          fontFamily: FONT,
          margin: 10,
          align: "center",
          formatter: (v: number) => colorbarTicks[Math.round((1 - v) / 0.2)],
        },
      },
    );
    graphics.push({
      type: "rect",
      silent: true,
      z: 20,
      shape: { x: bar[0], y: bar[1], width: bar[2] - bar[0], height: bar[3] - bar[1] },
      style: { fill: "transparent", stroke: "#8a8a8a", lineWidth: 0.7 },
    });
  };
  addHeatmap([26.3, 801.7, 329.3, 1104.7], wtGenes, wtRows, (i) => i < 18 || i === 21, (i) => i < 18, [335, 801.7, 346.7, 1104]);
  addHeatmap([405, 801.3, 709.7, 1106], koGenes, koRows, (i) => i < 20 && i !== 1 && i !== 6, (i) => i < 20 && i !== 1 && i !== 6, [715.3, 801, 727.3, 1105]);

  graphics.push(
    text("WT cells", 66.7, 961.7, 16),
    text("{i|Mbd3} KO cells", 399, 962, 16, { align: "left", rich: { i: { fontStyle: "italic", fontSize: 16, fontFamily: FONT, fill: "#1a1a1a" } } }),
    text("Stem Cell Population", 73.3, 1051.7, 13, { fill: "#2bb673" }),
    text("Maintenance", 73.3, 1067.7, 13, { fill: "#2bb673" }),
    text("GO:0019827", 73.3, 1082.7, 13, { fill: "#2bb673" }),
    text("Neurogenesis", 160.7, 1061.7, 13.5, { align: "left", fill: "#f7931e" }),
    text("GO:00220008", 160.7, 1078.3, 13.5, { align: "left", fill: "#f7931e" }),
  );

  return {
    animation: false,
    backgroundColor: "#fff",
    textStyle: { fontFamily: FONT },
    legend: {
      left: 282.3,
      top: 87.3,
      orient: "vertical",
      padding: 0,
      itemGap: 0,
      itemWidth: 8.4,
      itemHeight: 8.67,
      selectedMode: false,
      icon: "rect",
      data: ["3", "4", "5", "6", "7", "8", "9", "10"],
      textStyle: { fontSize: 5, color: "#333", fontFamily: FONT, padding: [0, 0, 0, -2] },
    },
    grid,
    xAxis,
    yAxis,
    visualMap,
    series,
    graphic: { elements: graphics },
  };
}

export default function App() {
  const reference = useRef<HTMLDivElement>(null);
  useEffect(() => {
    if (reference.current === null) return;
    const chart = echarts.init(reference.current, undefined, { renderer: "svg" });
    chart.setOption(buildOption() as any);
    return () => chart.dispose();
  }, []);
  return (
    <div
      ref={reference}
      style={{ position: "absolute", left: 0, top: 0, width: 780, height: 1109 }}
    />
  );
}
